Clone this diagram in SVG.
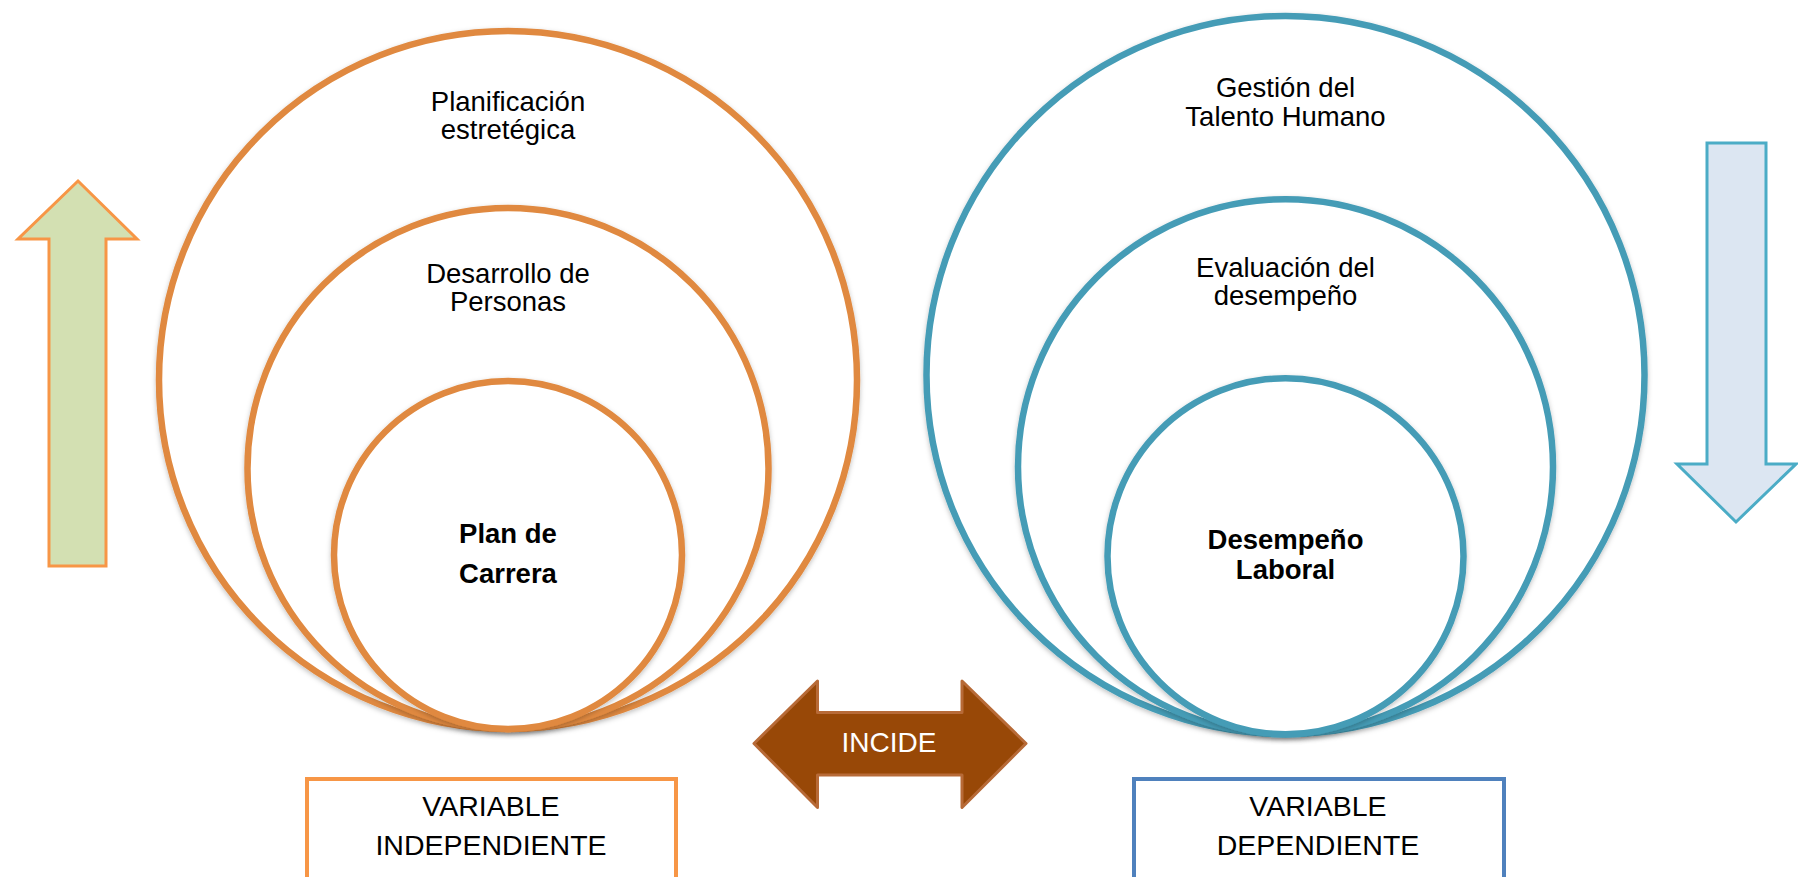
<svg xmlns="http://www.w3.org/2000/svg" width="1798" height="877" viewBox="0 0 1798 877">
  <defs>
    <filter id="sh" x="-10%" y="-10%" width="120%" height="120%">
      <feDropShadow dx="0" dy="2" stdDeviation="2.5" flood-color="#000" flood-opacity="0.25"/>
    </filter>
  </defs>
  <style>
    .oc { fill: #ffffff; stroke: #E0893F; stroke-width: 6.5; }
    .bc { fill: #ffffff; stroke: #459CB6; stroke-width: 6.5; }
    .t { font-family: "Liberation Sans", Arial, sans-serif; font-size: 27.5px; fill: #000; text-anchor: middle; }
    .tb { font-family: "Liberation Sans", Arial, sans-serif; font-size: 27.5px; font-weight: bold; fill: #000; text-anchor: middle; }
    .bt { font-family: "Liberation Sans", Arial, sans-serif; font-size: 28.5px; fill: #000; text-anchor: middle; }
  </style>
  <rect x="0" y="0" width="1798" height="877" fill="#ffffff"/>

  <g id="arrow-up">
    <polygon points="78,181 137,239 106,239 106,566 49,566 49,239 18,239" fill="#D3E0B2" stroke="#F79646" stroke-width="3"/>
  </g>

  <g id="arrow-down">
    <polygon points="1707,143 1766,143 1766,464 1796,464 1736,522 1677,464 1707,464" fill="#DCE6F2" stroke="#4BACC6" stroke-width="3"/>
  </g>

  <g id="planificacion">
    <circle class="oc" cx="508" cy="380" r="349" filter="url(#sh)"/>
    <text class="t" x="508" y="110.5">Planificación</text>
    <text class="t" x="508" y="138.5">estretégica</text>
  </g>
  <g id="desarrollo">
    <circle class="oc" cx="508" cy="468.5" r="260.5" filter="url(#sh)"/>
    <text class="t" x="508" y="282.5">Desarrollo de</text>
    <text class="t" x="508" y="310.5">Personas</text>
  </g>
  <g id="plan-carrera">
    <circle class="oc" cx="508" cy="555" r="174" filter="url(#sh)"/>
    <text class="tb" x="508" y="542.5">Plan de</text>
    <text class="tb" x="508" y="582.5">Carrera</text>
  </g>

  <g id="gestion">
    <circle class="bc" cx="1285.5" cy="375" r="359" filter="url(#sh)"/>
    <text class="t" x="1285.5" y="96.5">Gestión del</text>
    <text class="t" x="1285.5" y="125.5">Talento Humano</text>
  </g>
  <g id="evaluacion">
    <circle class="bc" cx="1285.5" cy="466.8" r="267.5" filter="url(#sh)"/>
    <text class="t" x="1285.5" y="276.5">Evaluación del</text>
    <text class="t" x="1285.5" y="305">desempeño</text>
  </g>
  <g id="desempeno">
    <circle class="bc" cx="1285.5" cy="556.3" r="178" filter="url(#sh)"/>
    <text class="tb" x="1285.5" y="549.3">Desempeño</text>
    <text class="tb" x="1285.5" y="579.3">Laboral</text>
  </g>

  <g id="var-independiente">
    <rect x="307" y="779" width="369" height="110" fill="#ffffff" stroke="#F79646" stroke-width="4"/>
    <text class="bt" x="491" y="816">VARIABLE</text>
    <text class="bt" x="491" y="854.5">INDEPENDIENTE</text>
  </g>
  <g id="var-dependiente">
    <rect x="1134" y="779" width="370" height="110" fill="#ffffff" stroke="#4F81BD" stroke-width="4"/>
    <text class="bt" x="1318" y="816">VARIABLE</text>
    <text class="bt" x="1318" y="854.5">DEPENDIENTE</text>
  </g>

  <g id="connectors">
    <polygon points="754,743.5 817.5,681 817.5,712.5 962,712.5 962,681 1026,743.5 962,807.5 962,775 817.5,775 817.5,807.5" fill="#984807" stroke="#B76A37" stroke-width="3" stroke-linejoin="round"/>
    <text x="889" y="752" font-family="Liberation Sans, Arial, sans-serif" font-size="28" fill="#ffffff" text-anchor="middle">INCIDE</text>
  </g>
</svg>
